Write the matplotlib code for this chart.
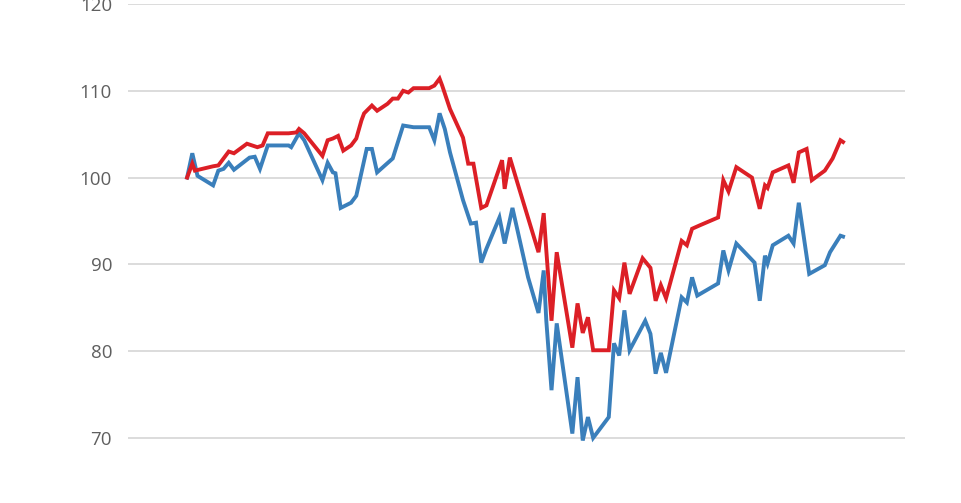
import matplotlib.pyplot as plt

# values (x = trading day, y = index level)
red_days = [0, 2, 3, 10, 12, 16, 18, 23, 25, 27, 29, 31, 39, 42, 43, 45, 52, 54, 56, 58,
            60, 63, 65, 67, 68, 71, 73, 77, 79, 81, 83, 85, 87, 93, 95, 97, 98, 101, 106, 108,
            110, 113, 115, 121, 122, 124, 127, 135, 137, 138, 140, 142, 148, 150, 152, 154, 156, 162, 164, 166,
            168, 170, 175, 178, 180, 182, 184, 190, 192, 194, 197, 204, 206, 208, 211, 217, 220, 222, 223, 225,
            231, 233, 235, 238, 240, 245, 248, 251, 252]
red_vals = [100.0, 101.6, 100.8, 101.3, 101.4, 103.0, 102.8, 103.9, 103.7, 103.5, 103.7, 105.1, 105.1, 105.2, 105.6, 105.1, 102.5, 104.3, 104.5, 104.8,
            103.1, 103.7, 104.5, 106.6, 107.4, 108.3, 107.7, 108.5, 109.1, 109.1, 110.0, 109.8, 110.3, 110.3, 110.6, 111.4, 110.6, 107.9, 104.6, 101.6,
            101.6, 96.5, 96.8, 102.0, 98.7, 102.3, 99.3, 91.4, 95.9, 91.6, 83.5, 91.4, 80.4, 85.5, 82.1, 83.9, 80.1, 80.1, 87.0, 86.1,
            90.2, 86.6, 90.7, 89.6, 85.8, 87.6, 86.1, 92.7, 92.2, 94.1, 94.5, 95.4, 99.7, 98.4, 101.2, 100.0, 96.4, 99.1, 98.8, 100.6,
            101.4, 99.4, 102.9, 103.3, 99.7, 100.8, 102.2, 104.3, 104.1]

blue_days = [0, 2, 4, 10, 12, 14, 16, 18, 24, 26, 28, 31, 39, 40, 43, 45, 52, 54, 56, 57,
             59, 63, 65, 69, 71, 73, 79, 83, 87, 93, 95, 97, 99, 101, 106, 109, 111, 113, 115, 120,
             122, 125, 131, 135, 137, 138, 140, 142, 148, 150, 152, 154, 156, 162, 164, 166, 168, 170, 176, 178,
             180, 182, 184, 190, 192, 194, 196, 204, 206, 208, 211, 218, 220, 222, 223, 225, 231, 233, 235, 239,
             245, 247, 251, 252]
blue_vals = [100.0, 102.8, 100.2, 99.1, 100.8, 101.0, 101.7, 100.9, 102.3, 102.4, 101.0, 103.7, 103.7, 103.5, 105.1, 104.3, 99.7, 101.7, 100.6, 100.5,
             96.5, 97.1, 97.9, 103.3, 103.3, 100.6, 102.2, 106.0, 105.8, 105.8, 104.3, 107.4, 105.6, 102.9, 97.4, 94.7, 94.8, 90.2, 91.8, 95.4,
             92.4, 96.5, 88.5, 84.4, 89.3, 83.5, 75.5, 83.2, 70.5, 77.0, 69.7, 72.4, 70.0, 72.4, 80.9, 79.5, 84.7, 80.1, 83.5, 82.0,
             77.4, 79.8, 77.5, 86.2, 85.6, 88.5, 86.4, 87.8, 91.6, 89.3, 92.4, 90.2, 85.8, 91.0, 90.1, 92.2, 93.3, 92.4, 97.1, 88.9,
             89.9, 91.4, 93.3, 93.2]

y_ticks = [70, 80, 90, 100, 110, 120]

plt.rcParams['font.family'] = ['Open Sans', 'DejaVu Sans']

fig = plt.figure(figsize=(9.62, 5.03), dpi=100)
ax = fig.add_axes([128 / 962, 0, (905 - 128) / 962, 499 / 503])

ax.plot(blue_days, blue_vals, color='#3a7fbb', lw=2.8, solid_joinstyle='miter', zorder=3)
ax.plot(red_days, red_vals, color='#dc1f26', lw=2.8, solid_joinstyle='miter', zorder=4)

ax.set_xlim(-22.7, 275.8)
ax.set_ylim(62.5, 120)
ax.set_yticks(y_ticks)
ax.set_xticks([])
ax.grid(axis='y', color='#dcdcdc', lw=1.4)
ax.set_axisbelow(True)
for s in ax.spines.values():
    s.set_visible(False)
ax.tick_params(axis='y', length=0, pad=11.5, labelsize=13.5, labelcolor='#5f5f5f')

fig.savefig('out.png', dpi=100, facecolor='white')
